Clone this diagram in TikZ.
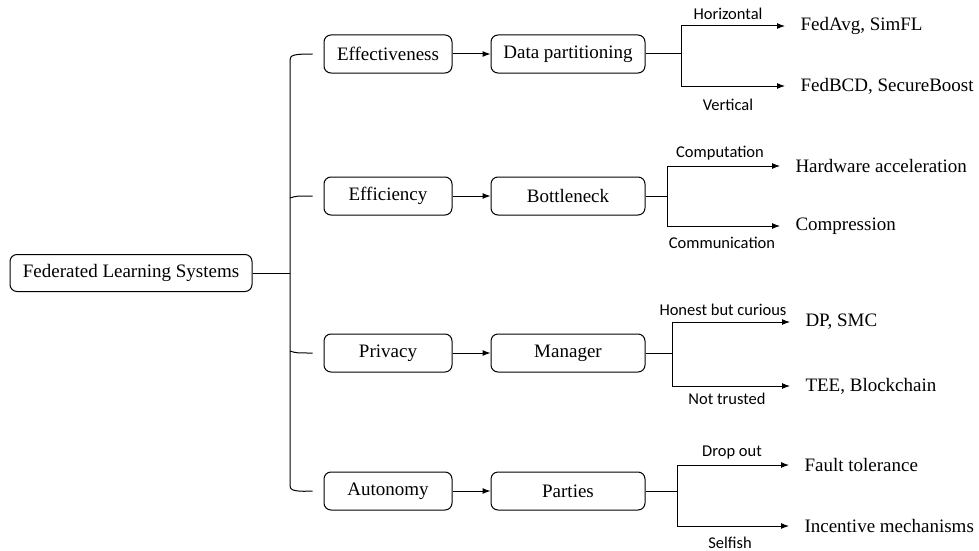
\documentclass[tikz,border=0pt]{standalone}
\usepackage{fontspec}
\setmainfont{Liberation Serif}
\newfontfamily\lblfont{Carlito}
\usetikzlibrary{arrows.meta}
\tikzset{
    box/.style={draw=black, rounded corners=7pt, minimum height=38pt, inner sep=0pt, font=\fontsize{19}{22}\selectfont},
    aspect/.style={box, minimum width=128pt},
    issue/.style={box, minimum width=154pt},
    leaf/.style={anchor=west, inner xsep=15pt, inner ysep=0pt, font=\fontsize{19}{22}\selectfont},
    lbl/.style={inner sep=0pt, font=\lblfont\fontsize{16.5}{19}\selectfont},
    arr/.style={-{Latex[length=8pt,width=6pt]}},
}

\begin{document}
\begin{tikzpicture}[x=1pt, y=-1pt, line width=1pt]
    \newcommand\yEff{54}
    \newcommand\yEffi{196}
    \newcommand\yPriv{353}
    \newcommand\yAuto{491}
    \newcommand\xAsp{388}
    \newcommand\xIss{568}

    \useasboundingbox (0, 0) rectangle (979, 551);

    \node[box, minimum width=242pt, minimum height=37pt] (fls) at (131, 273){Federated Learning Systems};

    \node[aspect] (eff) at (\xAsp, \yEff){Effectiveness};
    \node[aspect] (effi) at (\xAsp, \yEffi){Efficiency};
    \node[aspect] (priv) at (\xAsp, \yPriv){Privacy};
    \node[aspect] (auto) at (\xAsp, \yAuto){Autonomy};

    \node[issue] (part) at (\xIss, \yEff){Data partitioning};
    \node[issue] (bott) at (\xIss, \yEffi){Bottleneck};
    \node[issue] (mgr) at (\xIss, \yPriv){Manager};
    \node[issue] (prty) at (\xIss, \yAuto){Parties};

    % bracket from the root to the four aspects
    \coordinate (brk) at (290, 273);
    \draw (fls) -- (brk);
    \draw ([xshift=-11pt]eff.west) .. controls (294, \yEff) and (290, 55) .. (290, 60) -- (290, 486) .. controls (290, 490) and (294, 492) .. ([xshift=-11pt]auto.west);
    \draw (290, 198) .. controls (296, 196) .. ([xshift=-11pt]effi.west);
    \draw (290, 351) .. controls (296, 353) .. ([xshift=-11pt]priv.west);

    \draw[arr] (eff) -- (part);
    \draw[arr] (effi) -- (bott);
    \draw[arr] (priv) -- (mgr);
    \draw[arr] (auto) -- (prty);

    % leaves
    \node[leaf] (avg) at (785, 26){FedAvg, SimFL};
    \node[leaf] (bcd) at (785, 86){FedBCD, SecureBoost};
    \node[leaf] (hw) at (780, 166){Hardware acceleration};
    \node[leaf] (comp) at (780, 226){Compression};
    \node[leaf] (dp) at (790, 322){DP, SMC};
    \node[leaf] (tee) at (790, 386){TEE, Blockchain};
    \node[leaf] (fault) at (789, 465){Fault tolerance};
    \node[leaf] (inc) at (789, 526){Incentive mechanisms};

    \coordinate (jA) at (681, \yEff);
    \coordinate (jB) at (667, \yEffi);
    \coordinate (jC) at (672, \yPriv);
    \coordinate (jD) at (677, \yAuto);

    \draw (part) -- (jA);
    \draw[arr] (jA) |- (avg);
    \draw[arr] (jA) |- (bcd);
    \draw (bott) -- (jB);
    \draw[arr] (jB) |- (hw);
    \draw[arr] (jB) |- (comp);
    \draw (mgr) -- (jC);
    \draw[arr] (jC) |- (dp);
    \draw[arr] (jC) |- (tee);
    \draw (prty) -- (jD);
    \draw[arr] (jD) |- (fault);
    \draw[arr] (jD) |- (inc);

    \node[lbl] (horiz) at (728, 14){Horizontal};
    \node[lbl] (vert) at (728, 105){Vertical};
    \node[lbl] (cpu) at (720, 153){Computation};
    \node[lbl] (comm) at (722, 243){Communication};
    \node[lbl] (hbc) at (723, 310){Honest but curious};
    \node[lbl] (nt) at (727, 399){Not trusted};
    \node[lbl] (drop) at (732, 453){Drop out};
    \node[lbl] (self) at (730, 543){Selfish};
\end{tikzpicture}
\end{document}
